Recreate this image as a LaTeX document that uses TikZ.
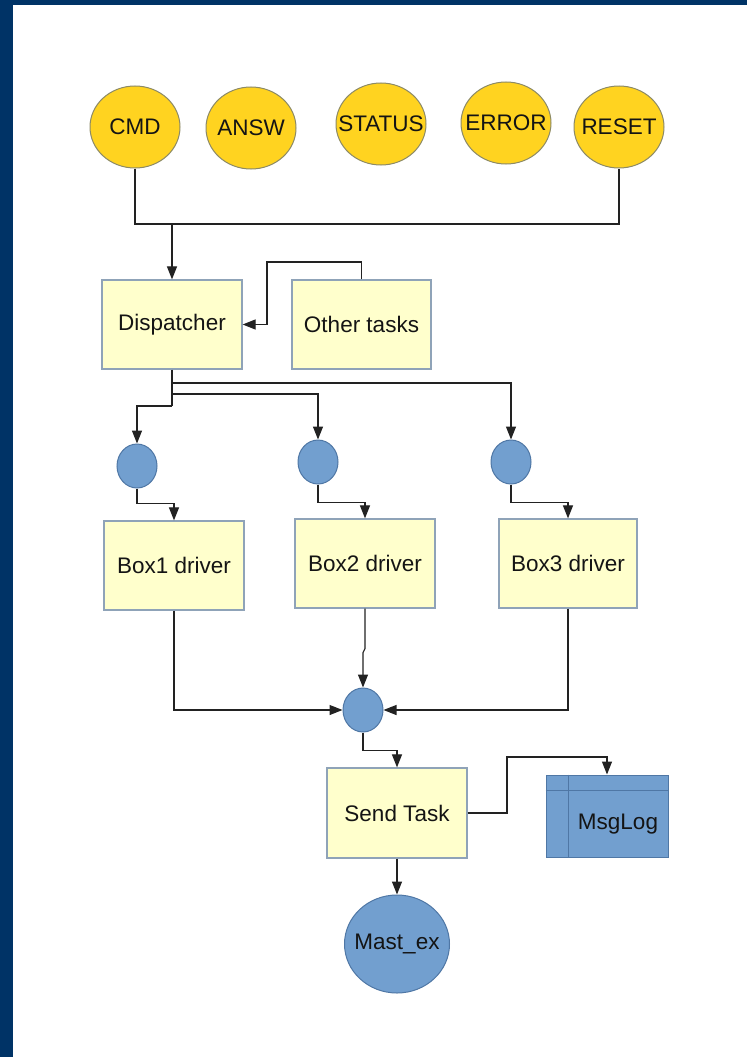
\documentclass[tikz,border=0pt]{standalone}
\usepackage{fontspec}
\setmainfont{Liberation Sans}
\usetikzlibrary{shapes.geometric,arrows.meta,calc}

\definecolor{frame}{HTML}{003366}
\definecolor{sunfill}{HTML}{FFD320}
\definecolor{sunedge}{HTML}{8C8A66}
\definecolor{boxfill}{HTML}{FFFFCC}
\definecolor{boxedge}{HTML}{8FA3B8}
\definecolor{bluefill}{HTML}{729FCF}
\definecolor{blueedge}{HTML}{4F77A5}
\definecolor{wire}{HTML}{222222}

\tikzset{
  lbl/.style={font=\fontsize{22.5}{26}\selectfont, text=black!92},
  msgcircle/.style={ellipse, draw=sunedge, fill=sunfill, line width=1pt,
    minimum width=90pt, minimum height=82pt, inner sep=0pt,
    label={[lbl]center:#1}},
  taskbox/.style={rectangle, lbl, draw=boxedge, fill=boxfill, line width=1.2pt,
    minimum width=140pt, minimum height=89pt, inner sep=0pt},
  queue/.style={ellipse, draw=blueedge, fill=bluefill, line width=1pt,
    minimum width=40pt, minimum height=44pt, inner sep=0pt},
  bigqueue/.style={ellipse, draw=blueedge, fill=bluefill, line width=1pt,
    minimum width=105pt, minimum height=98pt, inner sep=0pt,
    label={[lbl]center:#1}},
  logbox/.style={rectangle, draw=blueedge, fill=bluefill, line width=1pt,
    minimum width=122pt, minimum height=82pt, inner sep=0pt},
  wireline/.style={draw=wire, line width=1.1pt},
  arr/.style={wireline, -{Triangle[length=13pt,width=10pt]}},
}

\begin{document}
\begin{tikzpicture}[x=1pt, y=-1pt]
  % page frame
  \useasboundingbox (0,0) rectangle (747,1057);
  \fill[frame] (0,0) rectangle (747,1057);
  \fill[white] (13,5) rectangle (747,1057);

  % message sources
  \node[msgcircle=CMD]    (cmd)    at (135,127) {};
  \node[msgcircle=ANSW]   (answ)   at (251,128) {};
  \node[msgcircle=STATUS] (status) at (381,124) {};
  \node[msgcircle=ERROR]  (error)  at (506,123) {};
  \node[msgcircle=RESET]  (reset)  at (619,127) {};

  % tasks
  \node[taskbox] (disp)  at (172,324.5) {Dispatcher};
  \node[taskbox, minimum width=139pt] (other) at (361.5,324.5) {Other tasks};

  \node[queue] (q1) at (137,466) {};
  \node[queue] (q2) at (318,462) {};
  \node[queue] (q3) at (511,462) {};

  \node[taskbox] (box1) at (174,565.5) {Box1 driver};
  \node[taskbox] (box2) at (365,563.5) {Box2 driver};
  \node[taskbox, minimum width=138pt] (box3) at (568,563.5) {Box3 driver};

  \node[queue] (merge) at (363,710) {};

  \node[taskbox, minimum height=90pt] (send) at (397,813) {Send Task};

  % message log table
  \node[logbox] (log) at (607,816) {};
  \draw[blueedge, line width=1pt] ($(log.north west)+(23,0)$) -- ($(log.south west)+(23,0)$);
  \draw[blueedge, line width=1pt] ($(log.north west)+(0,16)$) -- ($(log.north east)+(0,16)$);
  \node[lbl] (logtxt) at (618,824) {MsgLog};

  \node[bigqueue=Mast\_ex] (mast) at (397,944) {};

  % inputs to the dispatcher
  \coordinate (bus) at (172,224);
  \draw[wireline] (cmd.south) |- (bus) -| (reset.south);
  \draw[arr] (bus) -- (disp.north);
  \coordinate (otherturn) at (267,262);
  \draw[arr] (other.north) |- (otherturn) |- (disp.east);

  % dispatcher fan-out
  \coordinate (j1) at (172,383);
  \coordinate (j2) at (172,394);
  \coordinate (j3) at (172,406);
  \draw[wireline] (disp.south) -- (j3);
  \draw[arr] (j1) -| (q3.north);
  \draw[arr] (j2) -| (q2.north);
  \draw[arr] (j3) -| (q1.north);

  % queues to drivers
  \draw[arr] (q1.south) -- ++(0,15) -| (box1.north);
  \draw[arr] (q2.south) -- ++(0,18) -| (box2.north);
  \draw[arr] (q3.south) -- ++(0,18) -| (box3.north);

  % drivers to the send queue
  \draw[arr] (box1.south) |- (merge.west);
  \draw[arr] (box3.south) |- (merge.east);
  \draw[arr] (box2.south) -- ++(0,40) -- ++(-2,4) -- (merge.north);

  % send task
  \draw[arr] (merge.south) -- ++(0,18) -| (send.north);
  \coordinate (logturn) at (507,757);
  \draw[arr] (send.east) -| (logturn) -| (log.north);
  \draw[arr] (send.south) -- (mast.north);
\end{tikzpicture}
\end{document}
